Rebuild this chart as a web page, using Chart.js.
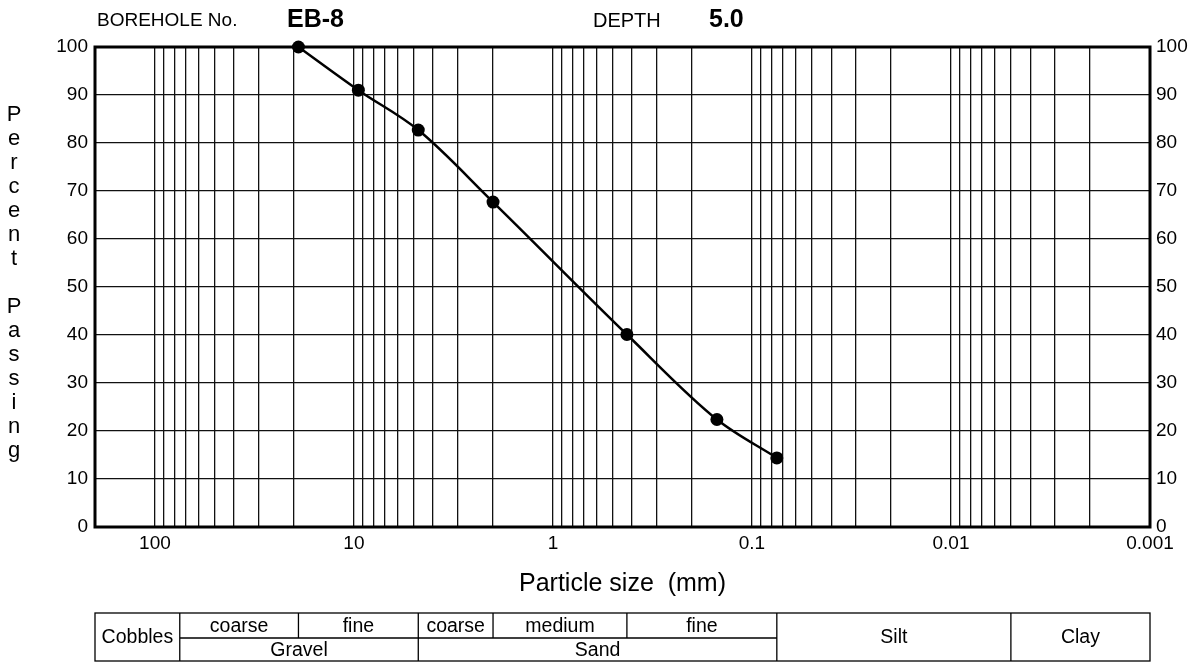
<!DOCTYPE html>
<html>
<head>
<meta charset="utf-8">
<script src="https://cdn.jsdelivr.net/npm/chart.js@4/dist/chart.umd.min.js"></script>
<style>
  html, body { margin: 0; padding: 0; background: #fff; }
  #wrap { width: 1202px; height: 662px; position: relative; }
</style>
</head>
<body>
<div id="wrap"><canvas id="c"></canvas></div>
<script>
// ---- data ----
const sieveSizesMm = [19.0, 9.5, 4.75, 2.0, 0.425, 0.15, 0.075];
const percentPassing = [100, 91.0, 82.7, 67.7, 40.1, 22.4, 14.4];
const xMajorValues = [100, 10, 1, 0.1, 0.01, 0.001];
const xTickLabels = ['100', '10', '1', '0.1', '0.01', '0.001'];
const yTickValues = [0, 10, 20, 30, 40, 50, 60, 70, 80, 90, 100];
const boreholeNo = 'EB-8';
const depth = '5.0';
const soilBoundaries = [200, 75, 19, 4.75, 2.0, 0.425, 0.075, 0.005, 0.001];
const gravelSubLabels = ['coarse', 'fine'];
const sandSubLabels = ['coarse', 'medium', 'fine'];

const FONT = "'Liberation Sans', Arial, Helvetica, sans-serif";

// log grid values 1..9 x 10^k
function buildLogGrid() {
  const vals = [];
  for (let k = -3; k <= 2; k++) {
    for (let m = 1; m <= 9; m++) {
      const v = Number((m * Math.pow(10, k)).toPrecision(6));
      if (v >= 0.001 && v <= 200) vals.push(v);
    }
  }
  return vals;
}
const logGrid = buildLogGrid();

const points = sieveSizesMm.map((x, i) => ({ x: x, y: percentPassing[i] }));

const decorPlugin = {
  id: 'decor',
  beforeDatasetsDraw(chart) {
    const { ctx, chartArea: a } = chart;
    ctx.save();
    ctx.strokeStyle = '#000';
    ctx.lineWidth = 3;
    ctx.strokeRect(a.left, a.top, a.right - a.left, a.bottom - a.top);
    ctx.restore();
  },
  afterDraw(chart) {
    const { ctx, chartArea: a } = chart;
    const xs = chart.scales.x;
    ctx.save();
    ctx.fillStyle = '#000';
    ctx.textBaseline = 'middle';

    // header
    ctx.textAlign = 'left';
    ctx.font = '19px ' + FONT;
    ctx.fillText('BOREHOLE No.', 97, 21);
    ctx.font = '20px ' + FONT;
    ctx.fillText('DEPTH', 593, 21);
    ctx.font = 'bold 25px ' + FONT;
    ctx.fillText(boreholeNo, 287, 20);
    ctx.fillText(depth, 709, 20);

    // y title (stacked letters)
    ctx.textAlign = 'center';
    ctx.font = '22px ' + FONT;
    const title = 'Percent Passing';
    let y = 115;
    for (const ch of title) {
      if (ch !== ' ') ctx.fillText(ch, 14, y);
      y += 24;
    }

    // x title
    ctx.font = '25px ' + FONT;
    ctx.fillText('Particle size  (mm)', (a.left + a.right) / 2, 584);

    // soil classification table
    const px = soilBoundaries.map(v => xs.getPixelForValue(v));
    const top = 613, mid = 638, bot = 661;
    ctx.strokeStyle = '#000';
    ctx.lineWidth = 1.3;
    ctx.strokeRect(px[0], top, px[8] - px[0], bot - top);
    ctx.beginPath();
    [1, 3, 6, 7].forEach(i => { ctx.moveTo(px[i], top); ctx.lineTo(px[i], bot); });
    [2, 4, 5].forEach(i => { ctx.moveTo(px[i], top); ctx.lineTo(px[i], mid); });
    ctx.moveTo(px[1], mid); ctx.lineTo(px[6], mid);
    ctx.stroke();

    ctx.font = '19.5px ' + FONT;
    const rowTop = (top + mid) / 2 + 1, rowBot = (mid + bot) / 2 + 1, rowAll = (top + bot) / 2 + 1;
    ctx.fillText('Cobbles', (px[0] + px[1]) / 2, rowAll);
    ctx.fillText(gravelSubLabels[0], (px[1] + px[2]) / 2, rowTop);
    ctx.fillText(gravelSubLabels[1], (px[2] + px[3]) / 2, rowTop);
    ctx.fillText('Gravel', (px[1] + px[3]) / 2, rowBot);
    ctx.fillText(sandSubLabels[0], (px[3] + px[4]) / 2, rowTop);
    ctx.fillText(sandSubLabels[1], (px[4] + px[5]) / 2, rowTop);
    ctx.fillText(sandSubLabels[2], (px[5] + px[6]) / 2, rowTop);
    ctx.fillText('Sand', (px[3] + px[6]) / 2, rowBot);
    ctx.fillText('Silt', (px[6] + px[7]) / 2, rowAll);
    ctx.fillText('Clay', (px[7] + px[8]) / 2, rowAll);
    ctx.restore();
  }
};

new Chart(document.getElementById('c'), {
  type: 'line',
  data: {
    datasets: [{
      data: points,
      borderColor: '#000',
      backgroundColor: '#000',
      borderWidth: 2.5,
      pointRadius: 6.5,
      pointHoverRadius: 6.5,
      pointBackgroundColor: '#000',
      pointBorderWidth: 0,
      cubicInterpolationMode: 'monotone',
      fill: false,
      clip: false
    }]
  },
  options: {
    responsive: true,
    maintainAspectRatio: false,
    animation: false,
    events: [],
    layout: { padding: { top: 47, left: 0, right: 0, bottom: 0 } },
    plugins: { legend: { display: false }, tooltip: { enabled: false } },
    scales: {
      x: {
        type: 'logarithmic',
        reverse: true,
        min: 0.001,
        max: 200,
        afterBuildTicks(scale) { scale.ticks = logGrid.map(v => ({ value: v })); },
        afterFit(scale) { scale.height = 135; },
        ticks: {
          autoSkip: false,
          maxRotation: 0,
          padding: 5,
          color: '#000',
          font: { family: FONT, size: 19 },
          callback(value) {
            const idx = xMajorValues.findIndex(m => Math.abs(m - value) / m < 1e-6);
            return idx >= 0 ? xTickLabels[idx] : '';
          }
        },
        grid: { color: '#111', lineWidth: 1.3, drawTicks: false },
        border: { display: false }
      },
      y: {
        type: 'linear',
        position: 'left',
        min: 0,
        max: 100,
        afterBuildTicks(scale) { scale.ticks = yTickValues.map(v => ({ value: v })); },
        afterFit(scale) { scale.width = 95; },
        ticks: { padding: 7, color: '#000', font: { family: FONT, size: 19 } },
        grid: { color: '#111', lineWidth: 1.3, drawTicks: false },
        border: { display: false }
      },
      y2: {
        type: 'linear',
        position: 'right',
        min: 0,
        max: 100,
        afterBuildTicks(scale) { scale.ticks = yTickValues.map(v => ({ value: v })); },
        afterFit(scale) { scale.width = 52; },
        ticks: { padding: 6, color: '#000', font: { family: FONT, size: 19 } },
        grid: { drawOnChartArea: false, drawTicks: false },
        border: { display: false }
      }
    }
  },
  plugins: [decorPlugin]
});
</script>
</body>
</html>
